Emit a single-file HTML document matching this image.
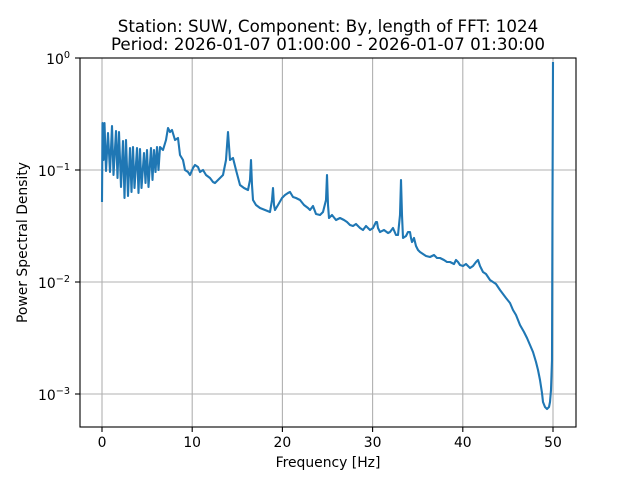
<!DOCTYPE html>
<html><head><style>body{margin:0;background:#fff}svg{display:block}text{font-family:"DejaVu Sans","Liberation Sans",sans-serif;fill:#000}</style></head>
<body>
<svg width="640" height="480" viewBox="0 0 640 480">
<g stroke="#b0b0b0" stroke-width="1.1">
<line x1="102" y1="58" x2="102" y2="427"/><line x1="192.2" y1="58" x2="192.2" y2="427"/><line x1="282.4" y1="58" x2="282.4" y2="427"/><line x1="372.6" y1="58" x2="372.6" y2="427"/><line x1="462.8" y1="58" x2="462.8" y2="427"/><line x1="553" y1="58" x2="553" y2="427"/>
<line x1="80" y1="170" x2="576" y2="170"/><line x1="80" y1="282" x2="576" y2="282"/><line x1="80" y1="394" x2="576" y2="394"/>
</g>
<polyline fill="none" stroke="#1f77b4" stroke-width="2.1" stroke-linejoin="round" points="102,202 102.5,123 103.5,160 104.5,123 106,171 108,133 110,172 112,126 113.5,175 116,131 117.5,178 119,132 121,187 123,141 124.5,198 126,140 128,196 130,148 131.5,192 133,147 134.5,188 137,148 138.5,193 140,149 141.5,188 144,153 145.5,183 147,150 148.5,187 151,148 152.5,180 154,150 155.5,172 157,147 158.5,170 160,147 163,150 166,140 168,128 170,132 172,130 175,140 178,138 180,155 183,160 185,170 188,172 190,175 193,168 195,165 198,167 200,172 203,170 206,175 210,178 213,182 215,183 218,180 220,178 223,175 226,160 228,132 230,160 233,158 236,170 240,185 244,188 248,190 250,180 251,160 252,185 253,200 256,205 260,208 265,210 270,212 272,200 273,188 274,205 275,210 278,205 282,198 285,195 288,193 290,192 293,197 296,198 300,200 304,205 308,208 310,210 313,206 316,214 320,215 323,212 326,200 327,175 328,205 329,218 332,215 336,220 340,218 344,220 347,222 350,225 353,226 356,224 360,228 363,230 366,226 370,230 373,228 376,222 377,222 378,228 380,232 384,230 388,233 390,232 393,228 396,235 398,235 400,215 401,180 402,215 403,238 406,236 408,232 410,232 411,238 412,242 414,238 416,246 418,250 420,252 423,254 426,256 430,257 434,255 437,258 440,258 444,260 447,262 450,262 454,264 456,260 458,262 460,265 463,266 466,264 470,268 473,266 476,262 478,260 480,266 483,272 486,274 490,280 493,282 496,284 500,290 503,294 506,298 510,303 513,310 516,315 520,325 524,332 527,338 530,345 533,352 536,362 538,370 540,380 542,393 543,402 545,407 547,409 549,407 550,402 551,390 552,360 552.5,200 553,62"/>
<rect x="80" y="58" width="496" height="369" fill="none" stroke="#000" stroke-width="1.1"/>
<g stroke="#000" stroke-width="1.1">
<line x1="102" y1="427" x2="102" y2="432"/><line x1="192.2" y1="427" x2="192.2" y2="432"/><line x1="282.4" y1="427" x2="282.4" y2="432"/><line x1="372.6" y1="427" x2="372.6" y2="432"/><line x1="462.8" y1="427" x2="462.8" y2="432"/><line x1="553" y1="427" x2="553" y2="432"/>
<line x1="75" y1="58" x2="80" y2="58"/><line x1="75" y1="170" x2="80" y2="170"/><line x1="75" y1="282" x2="80" y2="282"/><line x1="75" y1="394" x2="80" y2="394"/>
</g>
<g font-size="13.9" text-anchor="middle">
<text x="102" y="447">0</text><text x="192.2" y="447">10</text><text x="282.4" y="447">20</text><text x="372.6" y="447">30</text><text x="462.8" y="447">40</text><text x="553" y="447">50</text>
</g>
<g font-size="13.9" text-anchor="end">
<text x="70" y="64">10<tspan font-size="9.7" dy="-6">0</tspan></text>
<text x="70" y="176">10<tspan font-size="9.7" dy="-6">−1</tspan></text>
<text x="70" y="288">10<tspan font-size="9.7" dy="-6">−2</tspan></text>
<text x="70" y="400">10<tspan font-size="9.7" dy="-6">−3</tspan></text>
</g>
<text x="328" y="467" font-size="13.9" text-anchor="middle">Frequency [Hz]</text>
<text x="0" y="0" font-size="13.9" text-anchor="middle" transform="translate(27,242.5) rotate(-90)">Power Spectral Density</text>
<text x="328" y="32" font-size="16.7" text-anchor="middle">Station: SUW, Component: By, length of FFT: 1024</text>
<text x="328" y="50" font-size="16.7" text-anchor="middle">Period: 2026-01-07 01:00:00 - 2026-01-07 01:30:00</text>
</svg>
</body></html>
